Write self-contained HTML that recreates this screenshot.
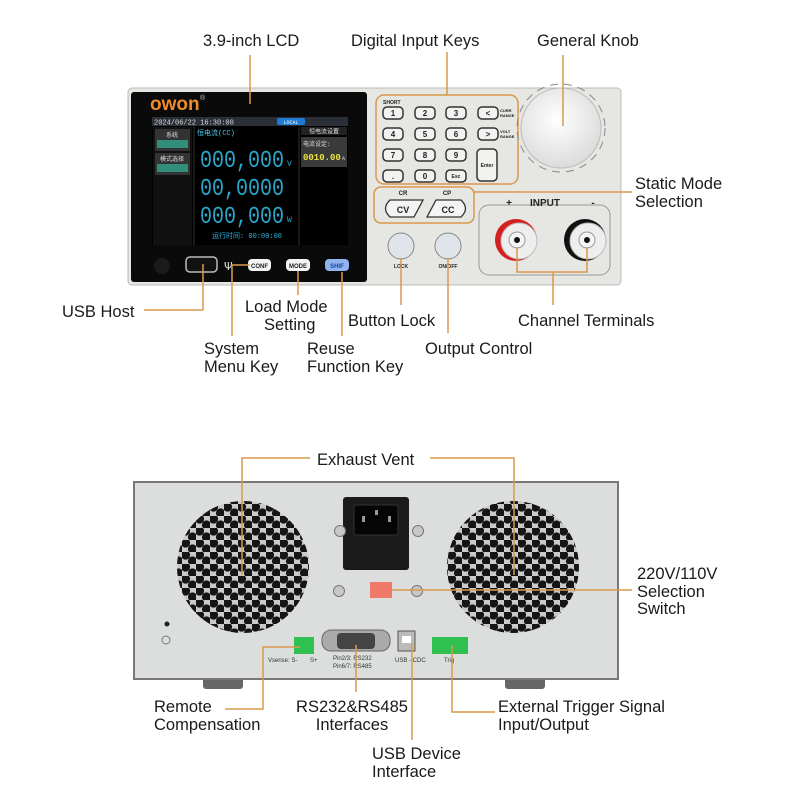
<!DOCTYPE html>
<html><head><meta charset="utf-8"><style>
html,body{margin:0;padding:0;background:#fff;}
svg{display:block;}
.t{font-family:"Liberation Sans",sans-serif;font-size:16.5px;fill:#1a1a1a;}
.l{stroke:#d9994a;stroke-width:1.5;fill:none;}
.k{font-family:"Liberation Sans",sans-serif;font-weight:bold;fill:#222;text-anchor:middle;}
.s{font-family:"Liberation Mono","Noto Sans CJK SC",monospace;}
</style></head><body>
<svg width="800" height="800" viewBox="0 0 800 800" xmlns="http://www.w3.org/2000/svg">
<defs>
<pattern id="hex" width="14" height="12" patternUnits="userSpaceOnUse">
<rect width="14" height="12" fill="#c9cbcb"/>
<circle cx="3.5" cy="3" r="4.6" fill="#151515"/><circle cx="10.5" cy="9" r="4.6" fill="#151515"/>
</pattern>
<clipPath id="f1"><circle cx="243" cy="567" r="66"/></clipPath>
<clipPath id="f2"><circle cx="513" cy="567" r="66"/></clipPath>
<radialGradient id="kn" cx="0.45" cy="0.4" r="0.6"><stop offset="0" stop-color="#fff"/><stop offset="1" stop-color="#dcdcdc"/></radialGradient>
</defs>

<!-- FRONT PANEL -->
<rect x="128" y="88" width="493" height="197" rx="4" fill="#e6e6e2" stroke="#bbb"/>
<rect x="131" y="92" width="236" height="190" rx="3" fill="#0a0a0a"/>
<text x="150" y="110" style="font-family:'Liberation Sans',sans-serif;font-size:19px;font-weight:bold;fill:#f08a2a">owon</text>
<text x="200" y="100" style="font-family:'Liberation Sans';font-size:7px;fill:#ccc">®</text>
<!-- LCD -->
<rect x="152" y="117" width="196" height="128" fill="#000"/>
<rect x="152" y="117" width="196" height="9" fill="#2a2f38"/>
<text x="154" y="124.5" class="s" style="font-size:7px;fill:#ddd">2024/06/22 16:30:00</text>
<rect x="277" y="118" width="28" height="7" rx="2" fill="#1e7ad4"/>
<text x="291" y="124" class="s" style="font-size:5px;fill:#fff;text-anchor:middle">LOCAL</text>
<rect x="153" y="127" width="39" height="118" fill="#111"/>
<rect x="155" y="129" width="35" height="22" fill="#333"/><rect x="157" y="140" width="31" height="8" fill="#2f8f7a"/>
<rect x="155" y="153" width="35" height="22" fill="#333"/><rect x="157" y="164" width="31" height="8" fill="#2f8f7a"/>
<text x="172" y="137" class="s" style="font-size:6px;fill:#ddd;text-anchor:middle">系统</text>
<text x="172" y="161" class="s" style="font-size:6px;fill:#ddd;text-anchor:middle">模式选择</text>
<line x1="194" y1="127" x2="194" y2="245" stroke="#333"/><line x1="299" y1="127" x2="299" y2="245" stroke="#333"/>
<text x="197" y="135" class="s" style="font-size:7px;fill:#4fc8e8">恒电流(CC)</text>
<g class="s" style="font-size:24px;fill:#2aa8cc">
<text x="200" y="167" textLength="84" lengthAdjust="spacingAndGlyphs">000,000</text>
<text x="200" y="195" textLength="84" lengthAdjust="spacingAndGlyphs">00,0000</text>
<text x="200" y="223" textLength="84" lengthAdjust="spacingAndGlyphs">000,000</text></g>
<text x="287" y="166" class="s" style="font-size:8px;fill:#2aa8cc">V</text>
<text x="287" y="222" class="s" style="font-size:8px;fill:#2aa8cc">W</text>
<text x="247" y="238" class="s" style="font-size:7px;fill:#2ab0d8;text-anchor:middle">运行时间: 00:00:00</text>
<rect x="301" y="127" width="46" height="8" fill="#222"/>
<text x="324" y="133.5" class="s" style="font-size:6px;fill:#ddd;text-anchor:middle">恒电流设置</text>
<rect x="301" y="137" width="46" height="30" fill="#3a3a3a"/>
<text x="303" y="146" class="s" style="font-size:6px;fill:#ddd">电流设定:</text>
<text x="303" y="160" class="s" style="font-size:9px;fill:#e8e040;font-weight:bold">0010.00</text>
<text x="342" y="160" class="s" style="font-size:5px;fill:#ddd">A</text>
<!-- bottom row -->
<circle cx="162" cy="266" r="8" fill="#1a1a1a"/>
<rect x="186" y="257" width="31" height="15" rx="4" fill="#111" stroke="#bbb" stroke-width="1.5"/>
<text x="224" y="270" style="font-size:11px;fill:#ddd;font-family:'DejaVu Sans'">Ψ</text>
<rect x="248" y="259" width="23" height="12" rx="4" fill="#f4f4f4"/><text x="259.5" y="268" class="k" style="font-size:6px">CONF</text>
<rect x="286" y="259" width="24" height="12" rx="4" fill="#f4f4f4"/><text x="298" y="268" class="k" style="font-size:6px">MODE</text>
<rect x="325" y="259" width="24" height="12" rx="4" fill="#8fb4f0"/><text x="337" y="268" class="k" style="font-size:6px;fill:#1d3f9a">SHIF</text>
<!-- right side -->
<rect x="376" y="95" width="142" height="89" rx="8" fill="none" stroke="#d9994a" stroke-width="1.5"/>
<text x="383" y="104" class="k" style="font-size:5px;text-anchor:start">SHORT</text>
<g fill="#f2f2f0" stroke="#333" stroke-width="1.5">
<rect x="383" y="107" width="20" height="12" rx="4"/><rect x="415" y="107" width="20" height="12" rx="4"/><rect x="446" y="107" width="20" height="12" rx="4"/><rect x="478" y="107" width="20" height="12" rx="4"/>
<rect x="383" y="128" width="20" height="12" rx="4"/><rect x="415" y="128" width="20" height="12" rx="4"/><rect x="446" y="128" width="20" height="12" rx="4"/><rect x="478" y="128" width="20" height="12" rx="4"/>
<rect x="383" y="149" width="20" height="12" rx="4"/><rect x="415" y="149" width="20" height="12" rx="4"/><rect x="446" y="149" width="20" height="12" rx="4"/>
<rect x="383" y="170" width="20" height="12" rx="4"/><rect x="415" y="170" width="20" height="12" rx="4"/><rect x="446" y="170" width="20" height="12" rx="4"/>
<rect x="477" y="149" width="20" height="32" rx="4"/></g>
<g class="k" style="font-size:8px">
<text x="393" y="116">1</text><text x="425" y="116">2</text><text x="456" y="116">3</text><text x="488" y="116">&lt;</text>
<text x="393" y="137">4</text><text x="425" y="137">5</text><text x="456" y="137">6</text><text x="488" y="137">&gt;</text>
<text x="393" y="158">7</text><text x="425" y="158">8</text><text x="456" y="158">9</text>
<text x="393" y="179">.</text><text x="425" y="179">0</text><text x="456" y="178" style="font-size:5px">Esc</text>
<text x="487" y="167" style="font-size:5px">Enter</text></g>
<g class="k" style="font-size:4px;text-anchor:start"><text x="500" y="112">CURR</text><text x="500" y="117">RANGE</text><text x="500" y="133">VOLT</text><text x="500" y="138">RANGE</text></g>
<circle cx="561" cy="128" r="44" fill="none" stroke="#888" stroke-width="1" stroke-dasharray="8 6"/>
<circle cx="561" cy="128" r="40" fill="url(#kn)" stroke="#bbb"/>
<rect x="374" y="187" width="100" height="36" rx="7" fill="none" stroke="#d9994a" stroke-width="1.5"/>
<text x="403" y="195" class="k" style="font-size:6px">CR</text><text x="447" y="195" class="k" style="font-size:6px">CP</text>
<path d="M390 200 H423 L414 217 H390 Q381 208.5 390 200Z" fill="#f4f4f4" stroke="#333" stroke-width="1.3"/>
<path d="M436 200 H461 Q470 208.5 461 217 H427Z" fill="#f4f4f4" stroke="#333" stroke-width="1.3"/>
<text x="403" y="213" class="k" style="font-size:9px">CV</text><text x="448" y="213" class="k" style="font-size:9px">CC</text>
<rect x="479" y="205" width="131" height="70" rx="10" fill="none" stroke="#999"/>
<text x="545" y="206" class="k" style="font-size:10px">INPUT</text>
<text x="509" y="206" class="k" style="font-size:10px">+</text><text x="593" y="206" class="k" style="font-size:10px">-</text>
<circle cx="516" cy="240" r="21" fill="#d42020"/><circle cx="519" cy="241" r="18" fill="#eee" stroke="#bbb"/>
<circle cx="517" cy="240" r="8" fill="#f5f5f5" stroke="#999"/><circle cx="517" cy="240" r="3" fill="#111"/>
<circle cx="585" cy="240" r="21" fill="#111"/><circle cx="588" cy="241" r="18" fill="#eee" stroke="#bbb"/>
<circle cx="587" cy="240" r="8" fill="#f5f5f5" stroke="#999"/><circle cx="587" cy="240" r="3" fill="#111"/>
<circle cx="401" cy="246" r="13" fill="#dfe4ea" stroke="#888"/><circle cx="448" cy="246" r="13" fill="#dfe4ea" stroke="#888"/>
<text x="401" y="268" class="k" style="font-size:5px">LOCK</text><text x="448" y="268" class="k" style="font-size:5px">ON/OFF</text>

<!-- front callouts -->
<text x="203" y="46" class="t">3.9-inch LCD</text>
<text x="351" y="46" class="t">Digital Input Keys</text>
<text x="537" y="46" class="t">General Knob</text>
<path class="l" d="M250 55V104 M447 52V95 M563 55V126"/>
<path class="l" d="M474 192H632"/>
<text x="635" y="189" class="t">Static Mode</text><text x="635" y="207" class="t">Selection</text>
<text x="62" y="317" class="t">USB Host</text>
<path class="l" d="M144 310H203V264"/>
<path class="l" d="M232 336V265H250"/>
<path class="l" d="M298 271V295"/>
<path class="l" d="M342 272V336"/>
<path class="l" d="M401 258V305"/>
<path class="l" d="M448 258V333"/>
<path class="l" d="M517 247V272H587V247 M553 272V305"/>
<text x="245" y="312" class="t">Load Mode</text><text x="264" y="330" class="t">Setting</text>
<text x="348" y="326" class="t">Button Lock</text>
<text x="518" y="326" class="t">Channel Terminals</text>
<text x="204" y="354" class="t">System</text><text x="204" y="372" class="t">Menu Key</text>
<text x="307" y="354" class="t">Reuse</text><text x="307" y="372" class="t">Function Key</text>
<text x="425" y="354" class="t">Output Control</text>

<!-- REAR PANEL -->
<rect x="203" y="676" width="40" height="13" rx="3" fill="#666"/><rect x="505" y="676" width="40" height="13" rx="3" fill="#666"/>
<rect x="134" y="482" width="484" height="197" fill="#dcdede" stroke="#777" stroke-width="2"/>
<rect x="160" y="495" width="166" height="145" fill="url(#hex)" clip-path="url(#f1)"/>
<rect x="430" y="495" width="166" height="145" fill="url(#hex)" clip-path="url(#f2)"/>
<rect x="343" y="497" width="66" height="73" rx="3" fill="#1a1a1a"/>
<rect x="354" y="505" width="44" height="30" rx="2" fill="#050505" stroke="#333"/>
<rect x="362" y="516" width="3" height="6" fill="#999"/><rect x="388" y="516" width="3" height="6" fill="#999"/><rect x="375" y="510" width="3" height="5" fill="#999"/>
<g fill="#c8c8c8" stroke="#777"><circle cx="340" cy="531" r="5.5"/><circle cx="418" cy="531" r="5.5"/><circle cx="339" cy="591" r="5.5"/><circle cx="417" cy="591" r="5.5"/></g>
<rect x="370" y="582" width="22" height="16" fill="#f07a6a"/>
<circle cx="167" cy="624" r="2.5" fill="#222"/><circle cx="166" cy="640" r="4" fill="none" stroke="#777"/>
<rect x="294" y="637" width="20" height="17" fill="#2fc04f"/>
<rect x="322" y="630" width="68" height="21" rx="9" fill="#aaa" stroke="#666"/><rect x="337" y="633" width="38" height="16" rx="4" fill="#444"/>
<rect x="398" y="631" width="17" height="20" fill="#bbb" stroke="#555"/><rect x="402" y="636" width="9" height="7" fill="#fff"/>
<rect x="432" y="637" width="36" height="17" fill="#2fc04f"/>
<g style="font-family:'Liberation Sans';font-size:6px;fill:#333">
<text x="268" y="662">Vsense: S-</text><text x="310" y="662">S+</text>
<text x="333" y="660">Pin2/3: RS232</text><text x="333" y="668">Pin6/7: RS485</text>
<text x="395" y="662">USB - CDC</text><text x="444" y="662">Trig</text></g>

<!-- rear callouts -->
<text x="317" y="465" class="t">Exhaust Vent</text>
<path class="l" d="M310 458H242V575 M430 458H514V575"/>
<path class="l" d="M392 590H632"/>
<text x="637" y="579" class="t">220V/110V</text><text x="637" y="597" class="t">Selection</text><text x="637" y="614" class="t">Switch</text>
<path class="l" d="M225 709H263V647H300"/>
<path class="l" d="M356 645V692"/>
<path class="l" d="M412 643V740"/>
<path class="l" d="M452 645V712H495"/>
<text x="154" y="712" class="t">Remote</text><text x="154" y="730" class="t">Compensation</text>
<text x="352" y="712" class="t" text-anchor="middle">RS232&amp;RS485</text><text x="352" y="730" class="t" text-anchor="middle">Interfaces</text>
<text x="372" y="759" class="t">USB Device</text><text x="372" y="777" class="t">Interface</text>
<text x="498" y="712" class="t">External Trigger Signal</text><text x="498" y="730" class="t">Input/Output</text>
</svg>
</body></html>
